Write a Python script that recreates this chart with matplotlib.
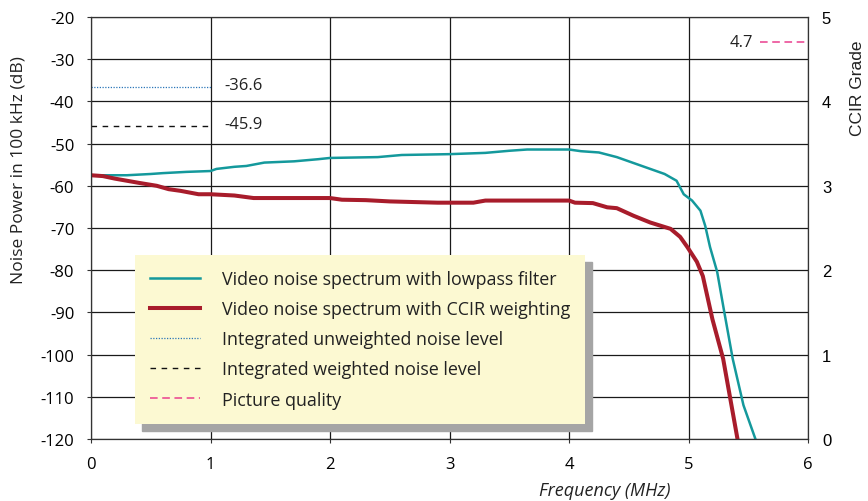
import matplotlib
matplotlib.use("Agg")
import matplotlib.pyplot as plt
from matplotlib.lines import Line2D

plt.rcParams["font.family"] = ["Open Sans", "DejaVu Sans"]
plt.rcParams["axes.unicode_minus"] = False

# Video noise spectrum with lowpass filter (MHz, dB)
lp_freq = [0.0, 0.3, 0.5, 0.6, 0.8, 1.0, 1.05, 1.2, 1.3, 1.45, 1.7, 1.9, 2.0,
           2.4, 2.6, 3.0, 3.3, 3.5, 3.65, 4.0, 4.1, 4.25, 4.4, 4.6, 4.8, 4.9,
           4.96, 5.03, 5.1, 5.14, 5.18, 5.24, 5.30, 5.37, 5.46, 5.56]
lp_db = [-57.5, -57.5, -57.2, -57.0, -56.7, -56.5, -56.0, -55.5, -55.3, -54.5,
         -54.2, -53.7, -53.4, -53.2, -52.7, -52.5, -52.2, -51.7, -51.4, -51.4,
         -51.8, -52.1, -53.2, -55.2, -57.2, -58.8, -62.0, -63.5, -65.9, -69.5,
         -74.5, -80.4, -90.0, -101.0, -112.0, -120.0]

# Video noise spectrum with CCIR weighting (MHz, dB)
ccir_freq = [0.0, 0.1, 0.2, 0.4, 0.55, 0.65, 0.75, 0.9, 1.0, 1.2, 1.36, 2.0,
             2.1, 2.3, 2.5, 2.9, 3.2, 3.3, 4.0, 4.05, 4.2, 4.32, 4.4, 4.54,
             4.68, 4.85, 4.93, 4.99, 5.07, 5.12, 5.2, 5.29, 5.35, 5.41]
ccir_db = [-57.5, -57.7, -58.3, -59.3, -60.0, -60.8, -61.2, -62.0, -62.0,
           -62.3, -62.9, -62.9, -63.3, -63.4, -63.7, -64.0, -64.0, -63.5,
           -63.5, -64.0, -64.1, -65.1, -65.3, -67.1, -68.7, -70.2, -72.1,
           -74.5, -78.0, -81.4, -91.6, -101.0, -110.5, -120.0]

# Integrated noise levels (dB) and picture quality (CCIR grade)
unweighted_level = -36.6
weighted_level = -45.9
picture_grade = 4.7

x_ticks = [0, 1, 2, 3, 4, 5, 6]
db_ticks = list(range(-120, -19, 10))
grade_ticks = [0, 1, 2, 3, 4, 5]

legend_labels = [
    "Video noise spectrum with lowpass filter",
    "Video noise spectrum with CCIR weighting",
    "Integrated unweighted noise level",
    "Integrated weighted noise level",
    "Picture quality",
]

TEAL = "#14999c"
RED = "#a81c2b"
BLUE = "#2b76b8"
PINK = "#ea3f8e"

fig = plt.figure(figsize=(8.68, 5.02), dpi=100)
ax = fig.add_axes([91 / 868, 1 - 440 / 502, 717 / 868, 422 / 502])

ax.set_xlim(0, 6)
ax.set_ylim(-120, -20)
ax.set_xticks(x_ticks)
ax.set_yticks(db_ticks)
ax.grid(True, color="#1a1a1a", linewidth=0.9)
ax.set_axisbelow(True)
for s in ax.spines.values():
    s.set_color("#333333")
    s.set_linewidth(0.9)
ax.tick_params(labelsize=12, length=3, width=0.8, color="#333333", pad=9)

ax.plot(lp_freq, lp_db, color=TEAL, linewidth=1.8, solid_joinstyle="round")
ax.plot(ccir_freq, ccir_db, color=RED, linewidth=2.9, solid_joinstyle="round")

ax.plot([0, 1], [unweighted_level, unweighted_level], color=BLUE,
        linestyle=(0, (1, 1.2)), linewidth=0.9)
ax.text(1.12, unweighted_level + 0.6, f"{unweighted_level:.1f}", fontsize=12,
        va="center", ha="left", color="#222222")
ax.plot([0, 1], [weighted_level, weighted_level], color="#111111",
        linestyle=(0, (4, 4)), linewidth=1.0)
ax.text(1.12, weighted_level + 0.6, f"{weighted_level:.1f}", fontsize=12,
        va="center", ha="left", color="#222222")

# right axis: CCIR grade
ax2 = ax.twinx()
ax2.set_ylim(0, 5)
ax2.set_yticks(grade_ticks)
ax2.tick_params(labelsize=12, length=0, pad=10)
for t in ax2.get_yticklabels():
    t.set_fontfamily(["Liberation Sans", "DejaVu Sans"])
for s in ax2.spines.values():
    s.set_visible(False)
ax2.plot([5.6, 6.0], [picture_grade, picture_grade], color=PINK,
         linestyle=(0, (5, 3)), linewidth=1.1, clip_on=False)
ax2.text(5.54, picture_grade, f"{picture_grade:.1f}", fontsize=12,
         va="center", ha="right", color="#222222")

fig.text(19 / 868, 1 - 170 / 502, "Noise Power in 100 kHz (dB)", rotation=90,
         ha="center", va="center", fontsize=12.5, color="#222222")
fig.text(858 / 868, 1 - 88 / 502, "CCIR Grade", rotation=90,
         ha="center", va="center", fontsize=12.5, color="#222222",
         family=["Liberation Sans", "DejaVu Sans"])
fig.text(605 / 868, 1 - 491 / 502, "Frequency (MHz)", style="italic",
         ha="center", va="center", fontsize=13, color="#222222")

handles = [
    Line2D([], [], color=TEAL, linewidth=1.8),
    Line2D([], [], color=RED, linewidth=2.9),
    Line2D([], [], color=BLUE, linestyle=(0, (1, 1.2)), linewidth=0.9),
    Line2D([], [], color="#111111", linestyle=(0, (4, 4)), linewidth=1.0),
    Line2D([], [], color=PINK, linestyle=(0, (5, 3)), linewidth=1.1),
]
leg = ax2.legend(handles, legend_labels, loc="lower left",
                 bbox_to_anchor=(0.061, 0.036), borderaxespad=0,
                 fontsize=12.9, handlelength=2.8, handletextpad=1.2,
                 labelspacing=0.68, borderpad=0.85, frameon=True, fancybox=False,
                 shadow={"ox": 5, "oy": -5, "color": "#a5a5a5", "alpha": 1.0})
frame = leg.get_frame()
frame.set_facecolor("#fcf9d2")
frame.set_edgecolor("none")
frame.set_alpha(1.0)
for t in leg.get_texts():
    t.set_color("#222222")

fig.savefig("out.png", dpi=100)
